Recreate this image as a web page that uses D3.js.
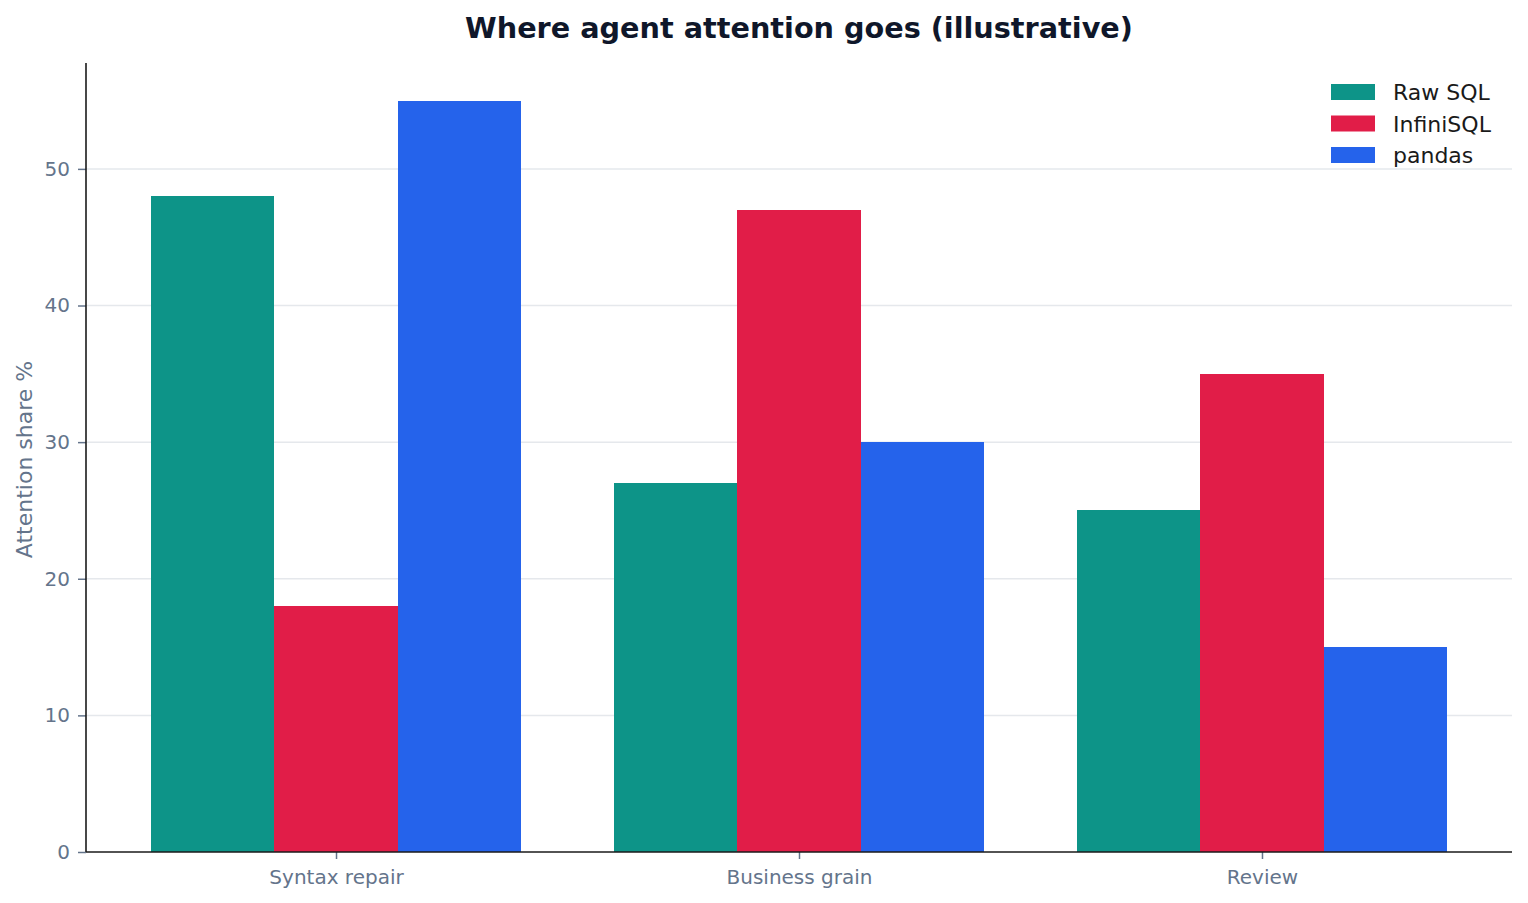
<!DOCTYPE html>
<html>
<head>
<meta charset="utf-8">
<script src="https://cdn.jsdelivr.net/npm/d3@7"></script>
<style>
  body { margin: 0; background: #fff; }
  svg { font-family: "DejaVu Sans", sans-serif; }
</style>
</head>
<body>
<svg id="chart" width="1528" height="903"></svg>
<script>
// Chart data
const categories = ["Syntax repair", "Business grain", "Review"];
const seriesNames = ["Raw SQL", "InfiniSQL", "pandas"];
const rawSql = [48, 27, 25];
const infiniSql = [18, 47, 35];
const pandasShare = [55, 30, 15];
const yTicks = [0, 10, 20, 30, 40, 50];
const seriesColors = ["#0d9488", "#e11d48", "#2563eb"];

const series = [rawSql, infiniSql, pandasShare];

const width = 1528;
const height = 903;
const margin = { top: 63, right: 16, bottom: 51, left: 86 };
const innerW = width - margin.left - margin.right;
const innerH = height - margin.top - margin.bottom;

const svg = d3.select("#chart");
const root = svg.append("g").attr("transform", `translate(${margin.left}, ${margin.top})`);

// Scales (matplotlib-like: bars width 0.8/3, x margin 5%)
const barW = 0.8 / 3;
const xLin = d3.scaleLinear().domain([-0.54, 2.54]).range([0, innerW]);
const yMax = d3.max(series.flat()) * 1.05;
const y = d3.scaleLinear().domain([0, yMax]).range([innerH, 0]);

// Gridlines
root.append("g")
  .selectAll("line")
  .data(yTicks.filter((t) => t > 0))
  .enter()
  .append("line")
  .attr("x1", 0)
  .attr("x2", innerW)
  .attr("y1", (d) => y(d))
  .attr("y2", (d) => y(d))
  .attr("stroke", "#e5e8ec")
  .attr("stroke-width", 1.5);

// Bars
series.forEach((vals, si) => {
  root.append("g")
    .attr("shape-rendering", "crispEdges")
    .selectAll("rect")
    .data(vals)
    .enter()
    .append("rect")
    .attr("x", (d, i) => xLin(i + (si - 1) * barW - barW / 2))
    .attr("width", xLin(barW) - xLin(0))
    .attr("y", (d) => y(d))
    .attr("height", (d) => innerH - y(d))
    .attr("fill", seriesColors[si]);
});

// Y axis
const yAxis = root.append("g")
  .call(d3.axisLeft(y).tickValues(yTicks).tickSize(8).tickPadding(8).tickFormat(d3.format("d")));
yAxis.select(".domain").remove();
yAxis.selectAll(".tick line").attr("stroke", "#64748b").attr("stroke-width", 1.5);
yAxis.selectAll(".tick text").attr("fill", "#64748b").style("font-size", "20px").style("font-family", "DejaVu Sans");

// X axis
const xAxis = root.append("g")
  .attr("transform", `translate(0, ${innerH})`)
  .call(d3.axisBottom(xLin).tickValues([0, 1, 2]).tickSize(7).tickPadding(11)
    .tickFormat((d) => categories[d]));
xAxis.select(".domain").remove();
xAxis.selectAll(".tick line").attr("stroke", "#64748b").attr("stroke-width", 1.5);
xAxis.selectAll(".tick text").attr("fill", "#64748b").style("font-size", "20px").style("font-family", "DejaVu Sans");

// Spines
root.append("line")
  .attr("x1", 0).attr("x2", 0).attr("y1", 0).attr("y2", innerH)
  .attr("stroke", "#1a1a1a").attr("stroke-width", 1.6);
root.append("line")
  .attr("x1", 0).attr("x2", innerW).attr("y1", innerH).attr("y2", innerH)
  .attr("stroke", "#1a1a1a").attr("stroke-width", 1.6);

// Y label
svg.append("text")
  .attr("transform", `translate(32, ${margin.top + innerH / 2 + 2}) rotate(-90)`)
  .attr("text-anchor", "middle")
  .attr("fill", "#64748b")
  .style("font-size", "22px")
  .text("Attention share %");

// Title
svg.append("text")
  .attr("x", margin.left + innerW / 2)
  .attr("y", 38)
  .attr("text-anchor", "middle")
  .attr("fill", "#0f172a")
  .style("font-size", "28.7px")
  .style("font-weight", "bold")
  .text("Where agent attention goes (illustrative)");

// Legend
const legend = svg.append("g").attr("transform", "translate(1331, 84)");
seriesNames.forEach((name, i) => {
  const row = legend.append("g").attr("transform", `translate(0, ${i * 31.5})`);
  row.append("rect").attr("width", 44).attr("height", 16).attr("fill", seriesColors[i]);
  row.append("text")
    .attr("x", 62)
    .attr("y", 16)
    .attr("fill", "#1a1a1a")
    .style("font-size", "22px")
    .text(name);
});
</script>
</body>
</html>
